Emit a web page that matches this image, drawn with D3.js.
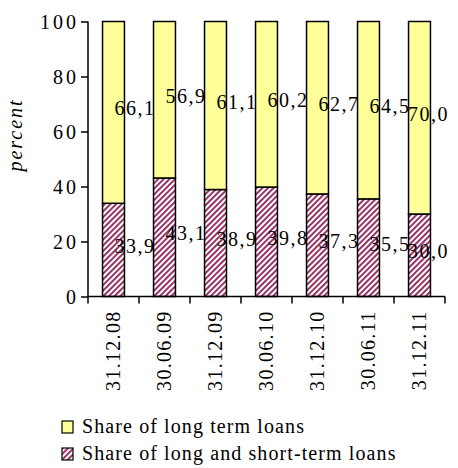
<!DOCTYPE html>
<html>
<head>
<meta charset="utf-8">
<script src="https://cdn.jsdelivr.net/npm/d3@7"></script>
<style>
  body { margin: 0; background: #fff; }
</style>
</head>
<body>
<div id="chart"></div>
<script>
// DATA
const dates = ['31.12.08', '30.06.09', '31.12.09', '30.06.10', '31.12.10', '30.06.11', '31.12.11'];
const shortLong = [33.9, 43.1, 38.9, 39.8, 37.3, 35.5, 30.0];
const longTerm = [66.1, 56.9, 61.1, 60.2, 62.7, 64.5, 70.0];
const yTicks = [0, 20, 40, 60, 80, 100];
const seriesNames = ['Share of long term loans', 'Share of long and short-term loans'];

const FONT = '"Liberation Serif"';
const W = 458, H = 468;
const m = { top: 21.5, right: 13, bottom: 171.5, left: 88 };
const w = W - m.left - m.right;
const h = H - m.top - m.bottom;
const fmt = (v) => v.toFixed(1).replace('.', ',');

const svg = d3.select('#chart').append('svg').attr('width', W).attr('height', H);

// set font on a text selection
const txt = (sel, size, ls) => sel
  .style('font-family', FONT)
  .style('font-size', size + 'px')
  .style('letter-spacing', ls + 'px')
  .attr('fill', '#000');

// PATTERN
const defs = svg.append('defs');
const pat = defs.append('pattern')
  .attr('id', 'hatch')
  .attr('patternUnits', 'userSpaceOnUse')
  .attr('width', 4).attr('height', 4)
  .attr('patternTransform', 'rotate(45)');
pat.append('rect').attr('width', 4).attr('height', 4).attr('fill', '#fff');
pat.append('rect').attr('width', 2).attr('height', 4).attr('fill', '#993366');

const g = svg.append('g').attr('transform', `translate(${m.left},${m.top})`);

// SCALES
const x = d3.scaleBand().domain(dates).range([0, w]).paddingInner(0.57).paddingOuter(0.285);
const y = d3.scaleLinear().domain([0, 100]).range([h, 0]);
const step = x.step();
const maxRight = W - m.left - 9; // keep labels inside the picture

// BARS + LABELS (per category, so later bars cover earlier labels)
dates.forEach((d, i) => {
  const cg = g.append('g');
  const lo = shortLong[i], hi = longTerm[i];
  cg.append('rect')
    .attr('x', x(d)).attr('width', x.bandwidth())
    .attr('y', y(lo)).attr('height', y(0) - y(lo))
    .attr('fill', 'url(#hatch)').attr('stroke', '#000').attr('stroke-width', 1.5);
  cg.append('rect')
    .attr('x', x(d)).attr('width', x.bandwidth())
    .attr('y', y(lo + hi)).attr('height', y(lo) - y(lo + hi))
    .attr('fill', '#ffff99').attr('stroke', '#000').attr('stroke-width', 1.5);
  const cx = x(d) + x.bandwidth() / 2 + step * 0.42;
  [[lo, y(lo / 2)], [hi, y(lo + hi / 2)]].forEach(([v, py]) => {
    const t = txt(cg.append('text'), 20, 1.5)
      .attr('y', py - 4).attr('dy', '0.35em')
      .attr('text-anchor', 'middle')
      .text(fmt(v));
    const half = t.node().getComputedTextLength() / 2;
    t.attr('x', Math.min(cx, maxRight - half));
  });
});

// Y AXIS
const yAx = g.append('g').call(d3.axisLeft(y).tickValues(yTicks).tickSize(7).tickPadding(2));
yAx.attr('font-family', null).attr('font-size', null);
yAx.select('.domain').attr('d', `M0,0V${h}`).attr('stroke', '#000').attr('stroke-width', 1.5);
yAx.selectAll('.tick line').attr('stroke-width', 1.5);
txt(yAx.selectAll('text'), 20, 3).attr('dy', '0.34em');

// X AXIS
const xAx = g.append('g').attr('transform', `translate(0,${h})`)
  .call(d3.axisBottom(x).tickSize(0).tickPadding(0));
xAx.attr('font-family', null).attr('font-size', null);
xAx.select('.domain').attr('d', `M0,0H${w}`).attr('stroke', '#000').attr('stroke-width', 1.5);
txt(xAx.selectAll('.tick text'), 20, 1.3)
  .attr('transform', 'rotate(-90)')
  .attr('text-anchor', 'end')
  .attr('x', -14).attr('y', 0).attr('dy', '0.33em');
// boundary ticks
const bounds = d3.range(dates.length + 1).map((i) => i * step);
xAx.selectAll('.bnd').data(bounds).enter().append('line')
  .attr('x1', (b) => b).attr('x2', (b) => b)
  .attr('y1', 0).attr('y2', 7)
  .attr('stroke', '#000').attr('stroke-width', 1.5);

// Y LABEL
txt(svg.append('text'), 20, 2)
  .attr('transform', `translate(22,135) rotate(-90)`)
  .attr('text-anchor', 'middle')
  .style('font-style', 'italic')
  .text('percent');

// LEGEND
const leg = svg.append('g');
const fills = ['#ffff99', 'url(#hatch)'];
seriesNames.forEach((n, i) => {
  const ly = 421 + i * 27;
  leg.append('rect').attr('x', 62).attr('y', ly).attr('width', 11).attr('height', 12)
    .attr('fill', fills[i]).attr('stroke', '#000').attr('stroke-width', 1.2);
  txt(leg.append('text'), 20, 1.1).attr('x', 82).attr('y', ly + 12)
    .text(n);
});
</script>
</body>
</html>
